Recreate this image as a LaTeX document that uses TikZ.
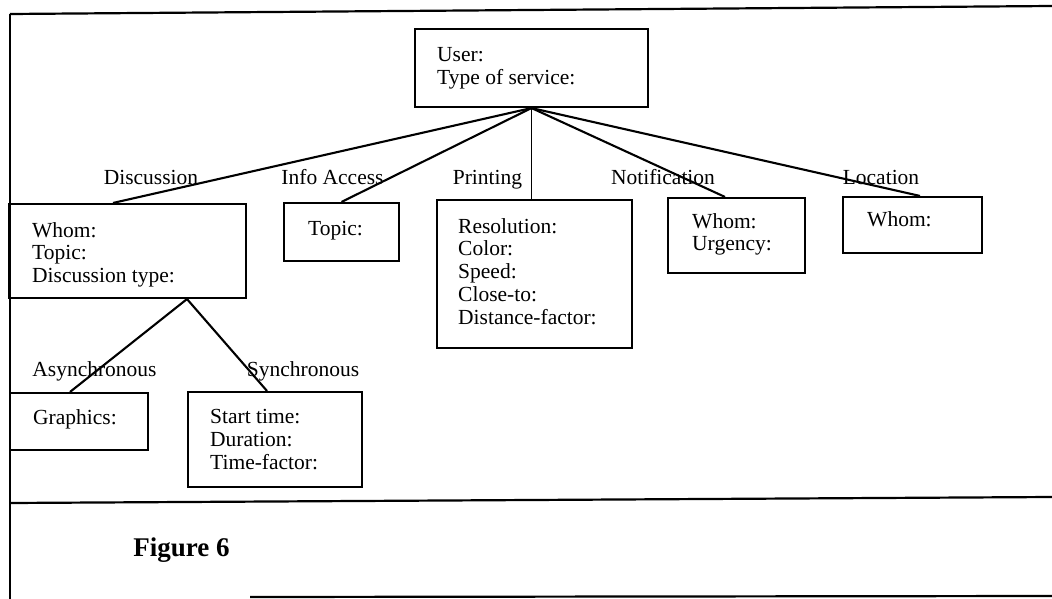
\documentclass[tikz,border=0pt]{standalone}
\usepackage{fontspec}
\setmainfont{Liberation Serif}
\begin{document}
\begin{tikzpicture}[x=1pt,y=-1pt,
  box/.style={draw, line width=2.1pt, inner sep=0pt},
  link/.style={line width=2.1pt},
  fields/.style={anchor=north west, inner sep=0pt, align=left,
    font=\fontsize{21.5}{22.8}\selectfont},
  tag/.style={anchor=base, inner sep=0pt, font=\fontsize{21.5}{22.8}\selectfont},
  frame/.style={line width=2.2pt}]
\useasboundingbox (0,0) rectangle (1052,599);

% outer frame and caption rule
\coordinate (ftl) at (10,14);
\coordinate (ftr) at (1052,6);
\coordinate (fbl) at (10,599);
\coordinate (sepl) at (10,503);
\coordinate (sepr) at (1052,497);
\coordinate (botl) at (250,597);
\coordinate (botr) at (1052,596);
\draw[frame] (ftl) -- (ftr);
\draw[frame] (ftl) -- (fbl);
\draw[frame] (sepl) -- (sepr);
\draw[frame] (botl) -- (botr);

% boxes
\node[box, minimum width=233pt, minimum height=78pt]  (root)  at (531.5,68) {};
\node[box, minimum width=237pt, minimum height=94pt]  (disc)  at (127.5,251) {};
\node[box, minimum width=115pt, minimum height=58pt]  (info)  at (341.5,232) {};
\node[box, minimum width=195pt, minimum height=148pt] (print) at (534.5,274) {};
\node[box, minimum width=137pt, minimum height=75pt]  (notif) at (736.5,235.5) {};
\node[box, minimum width=139pt, minimum height=56pt]  (loc)   at (912.5,225) {};
\node[box, minimum width=138pt, minimum height=57pt]  (graph) at (79,421.5) {};
\node[box, minimum width=174pt, minimum height=95pt]  (sync)  at (275,439.5) {};

% field lists
\node[fields] (rootT)  at (437,47)  {User:\\Type of service:};
\node[fields] (discT)  at (32,222)  {Whom:\\Topic:\\Discussion type:};
\node[fields] (infoT)  at (308,221) {Topic:};
\node[fields] (printT) at (458,218) {Resolution:\\Color:\\Speed:\\Close-to:\\Distance-factor:};
\node[fields] (notifT) at (692,213) {Whom:\\Urgency:};
\node[fields] (locT)   at (867,211.5) {Whom:};
\node[fields] (graphT) at (33,409)  {Graphics:};
\node[fields] (syncT)  at (210,409) {Start time:\\Duration:\\Time-factor:};

% connectors
\draw[link] (root.south) -- ([xshift=-14.5pt]disc.north);
\draw[link] (root.south) -- (info.north);
\draw[line width=1.2pt] (root.south) -- (root.south |- print.north);
\draw[link] (root.south) -- ([xshift=-11.5pt]notif.north);
\draw[link] (root.south) -- ([xshift=7.5pt]loc.north);
\draw[link] ([xshift=59.5pt]disc.south) -- ([xshift=-9pt]graph.north);
\draw[link] ([xshift=59.5pt]disc.south) -- ([xshift=-8pt]sync.north);

% branch labels
\node[tag] (lDisc)  at (151,184) {Discussion};
\node[tag] (lInfo)  at (332.5,184) {Info Access};
\node[tag] (lPrint) at (487.5,184) {Printing};
\node[tag] (lNotif) at (663,184) {Notification};
\node[tag] (lLoc)   at (881,184) {Location};
\node[tag] (lAsync) at (94.5,376) {Asynchronous};
\node[tag] (lSync)  at (303,376) {Synchronous};

% caption
\node[inner sep=0pt, font=\fontsize{27}{30}\selectfont\bfseries] (cap) at (181.5,550) {Figure 6};
\end{tikzpicture}
\end{document}
